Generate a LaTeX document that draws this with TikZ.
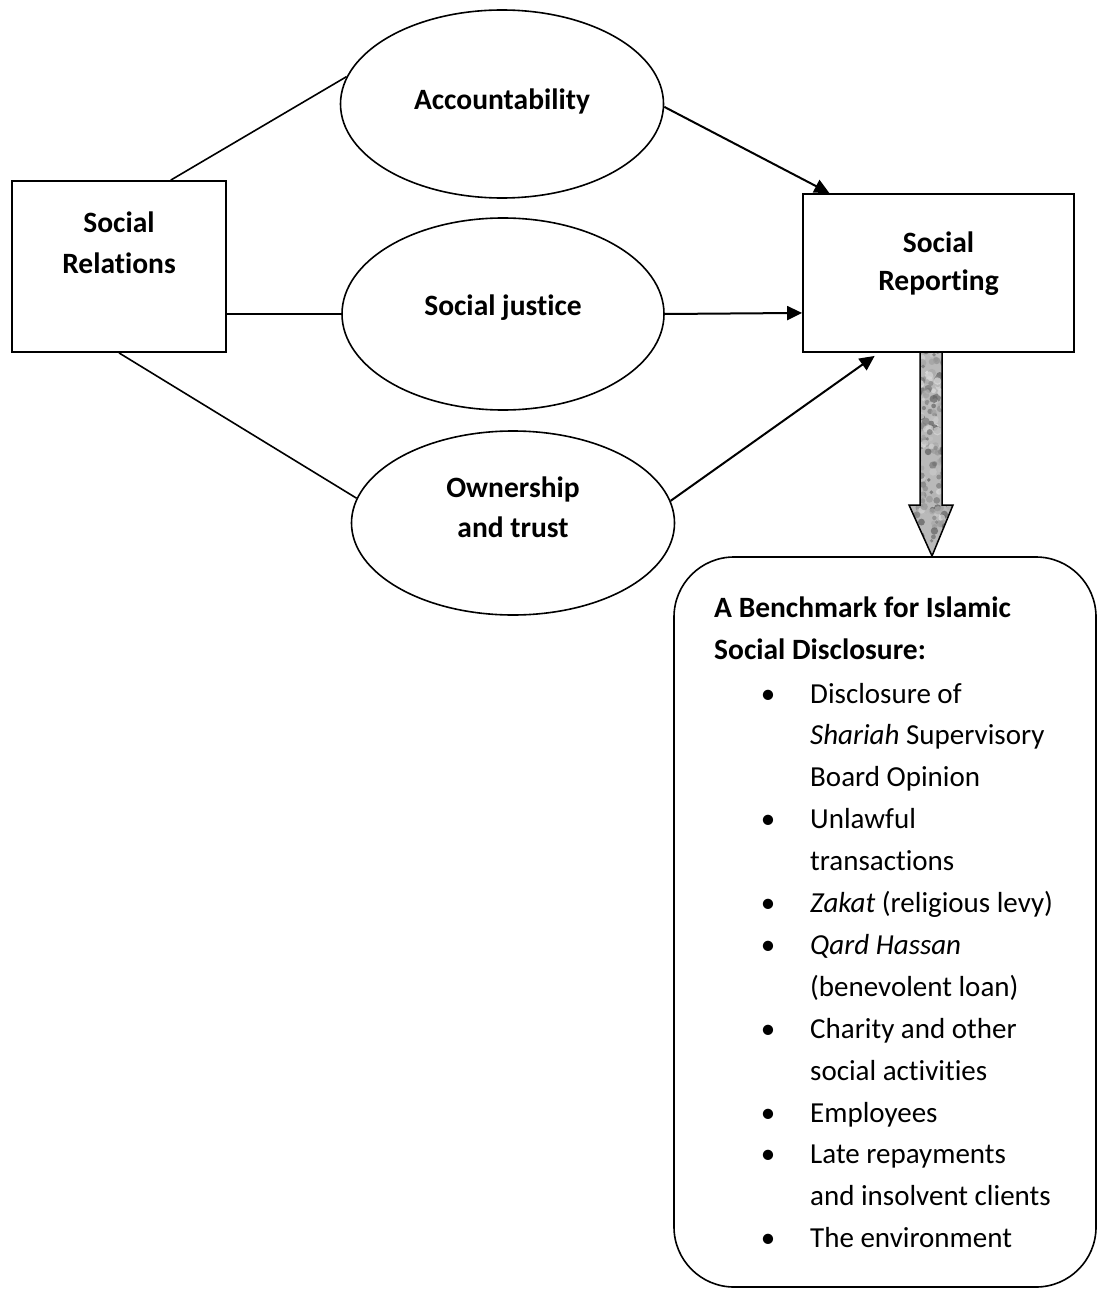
\documentclass[tikz,border=0pt]{standalone}
\usepackage{fontspec}
\setmainfont{Carlito}[RawFeature=-liga]
\usetikzlibrary{arrows.meta,shapes.geometric,calc}

\begin{document}
\begin{tikzpicture}[x=1pt,y=-1pt,
  every node/.style={font=\fontsize{29pt}{35pt}\selectfont, inner sep=0pt},
  boxnode/.style={draw, line width=1.8pt},
  oval/.style={draw, ellipse, line width=1.6pt},
  heading/.style={font=\fontsize{29.5pt}{35pt}\selectfont\bfseries, anchor=base},
  link/.style={line width=1.6pt},
  flow/.style={line width=2pt, -{Triangle[length=15pt,width=14pt]}},
  itemline/.style={anchor=base west},
  dot/.style={anchor=base}
]
\useasboundingbox (0,0) rectangle (1098,1289);

% left box and the three concepts
\node[boxnode, minimum width=214pt, minimum height=171pt] (sr) at (119,266.5) {};
\node[heading] (srt1) at (119,233) {Social};
\node[heading] (srt2) at (119,273) {Relations};

\node[oval, minimum width=323pt, minimum height=188pt] (acc) at (502,104) {};
\node[heading] (acct) at (502,110) {Accountability};

\node[oval, minimum width=322pt, minimum height=192pt] (sj) at (503,314) {};
\node[heading] (sjt) at (503,315) {Social justice};

\node[oval, minimum width=323pt, minimum height=184pt] (own) at (513,523) {};
\node[heading] (ownt1) at (513,497) {Ownership};
\node[heading] (ownt2) at (513,537) {and trust};

% right box
\node[boxnode, minimum width=271pt, minimum height=158pt] (sp) at (938.5,273) {};
\node[heading] (spt1) at (938.5,252) {Social};
\node[heading] (spt2) at (938.5,290) {Reporting};

% plain links
\draw[link] ($(sr.north west)!0.74!(sr.north east)$) -- (acc.170);
\draw[link] (sr.east |- sj.west) -- (sj.west);
\draw[link] (sr.south) -- (own.171.5);

% arrows into the reporting box
\draw[flow] (acc.-1) -- ($(sp.north west)!0.1!(sp.north east)$);
\draw[flow] (sj.east) -- ($(sp.south west)!0.25!(sp.north west)$);
\coordinate (spin) at ($(sp.south west)!0.266!(sp.south east) + (0,3)$);
\draw[flow] (own.8.5) -- (spin);

% benchmark panel
\node[draw, line width=1.6pt, rounded corners=60pt, minimum width=422pt, minimum height=730pt] (bench) at (885,922) {};

% granite-textured block arrow from the reporting box down to the panel
\def\blockarrow{(920,352) -- (942,352) -- (942,505) -- (953,505) -- (932,556) -- (909,505) -- (920,505) -- cycle}
\begin{scope}
  \clip \blockarrow;
  \fill[gray!55] (905,350) rectangle (957,558);
  \pgfmathsetseed{11}
  \foreach \k in {1,...,320}{
    \pgfmathsetmacro\xx{906+50*rnd}
    \pgfmathsetmacro\yy{350+208*rnd}
    \pgfmathsetmacro\gg{35+55*rnd}
    \pgfmathsetmacro\rr{1.8+2.6*rnd}
    \fill[white!\gg!black, opacity=0.7] (\xx,\yy) circle (\rr pt);
  }
\end{scope}
\draw[line width=1.5pt, line join=miter] \blockarrow;

% panel text
\node[heading, anchor=base west] (bh1) at (714,617) {A Benchmark for Islamic};
\node[heading, anchor=base west] (bh2) at (714,659) {Social Disclosure:};

\foreach \i/\txt in {
  0/{Disclosure of},
  1/{\textit{Shariah} Supervisory},
  2/{Board Opinion},
  3/{Unlawful},
  4/{transactions},
  5/{\textit{Zakat} (religious levy)},
  6/{\textit{Qard Hassan}},
  7/{(benevolent loan)},
  8/{Charity and other},
  9/{social activities},
  10/{Employees},
  11/{Late repayments},
  12/{and insolvent clients},
  13/{The environment}}{
  \node[itemline] (line\i) at (810,703+41.9*\i) {\txt};
}
\foreach \i in {0,3,5,6,8,10,11,13}{
  \node[dot] (dot\i) at (768,703+41.9*\i) {\textbullet};
}
\end{tikzpicture}
\end{document}
